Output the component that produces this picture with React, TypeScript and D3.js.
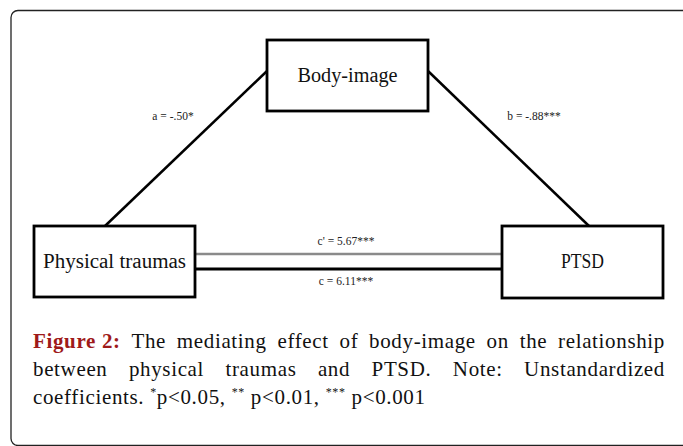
import React, { useRef, useEffect } from "react";
import * as d3 from "d3";

// diagram content
const nodes = ["Body-image", "Physical traumas", "PTSD"];
const pathLabels = ["a = -.50*", "b = -.88***", "c' = 5.67***", "c = 6.11***"];
const captionLead = "Figure 2:";
const captionLines = [
  "The mediating effect of body-image on the relationship",
  "between physical traumas and PTSD. Note: Unstandardized",
];
const captionStart = "coefficients. ";
const captionNotes = [
  { sup: "*", text: "p<0.05, " },
  { sup: "**", text: " p<0.01, " },
  { sup: "***", text: " p<0.001" },
];

const W = 683;
const H = 446;
const serif = "'Liberation Serif', 'Times New Roman', serif";

const App = () => {
  const svgRef = useRef<SVGSVGElement>(null);

  useEffect(() => {
    const svg = d3.select(svgRef.current);
    svg.selectAll("*").remove();

    // layout of boxes (x0, y0, x1, y1)
    const box = {
      [nodes[0]]: [267, 40, 428, 111],
      [nodes[1]]: [34, 226, 195, 297],
      [nodes[2]]: [502, 226, 663, 298],
    } as Record<string, number[]>;
    const textWidth: Record<string, number> = {
      [nodes[0]]: 100,
      [nodes[1]]: 143,
      [nodes[2]]: 43,
    };

    // outer frame
    svg
      .append("rect")
      .attr("x", 11)
      .attr("y", 10.5)
      .attr("width", 680)
      .attr("height", 435)
      .attr("rx", 7)
      .attr("fill", "none")
      .attr("stroke", "#222")
      .attr("stroke-width", 1.3);

    const line = d3.line();
    const g = svg.append("g");

    // a and b paths
    g.append("path")
      .attr("d", line([[105, 226], [267, 71]]))
      .attr("stroke", "#000")
      .attr("stroke-width", 2.5)
      .attr("fill", "none");
    g.append("path")
      .attr("d", line([[428, 71], [589, 226]]))
      .attr("stroke", "#000")
      .attr("stroke-width", 2.5)
      .attr("fill", "none");
    // c' (grey) and c (black)
    g.append("path")
      .attr("d", line([[195, 254], [502, 254]]))
      .attr("stroke", "#8a8a8a")
      .attr("stroke-width", 2.5)
      .attr("fill", "none");
    g.append("path")
      .attr("d", line([[195, 269], [502, 269]]))
      .attr("stroke", "#000")
      .attr("stroke-width", 2.8)
      .attr("fill", "none");

    // boxes
    nodes.forEach((n) => {
      const [x0, y0, x1, y1] = box[n];
      g.append("rect")
        .attr("x", x0)
        .attr("y", y0)
        .attr("width", x1 - x0)
        .attr("height", y1 - y0)
        .attr("fill", "#fff")
        .attr("stroke", "#000")
        .attr("stroke-width", 2.8);
      g.append("text")
        .attr("x", (x0 + x1) / 2)
        .attr("y", (y0 + y1) / 2 + 6)
        .attr("text-anchor", "middle")
        .attr("font-family", serif)
        .attr("font-size", 20)
        .attr("fill", "#111")
        .attr("textLength", textWidth[n])
        .attr("lengthAdjust", "spacingAndGlyphs")
        .text(n);
    });

    // path labels
    const labelPos = [
      [173, 120],
      [534, 120],
      [346, 245],
      [346, 285],
    ];
    pathLabels.forEach((t, i) => {
      g.append("text")
        .attr("x", labelPos[i][0])
        .attr("y", labelPos[i][1])
        .attr("text-anchor", "middle")
        .attr("font-family", serif)
        .attr("font-size", 11.5)
        .attr("fill", "#222")
        .text(t);
    });

    // caption, justified lines
    const left = 33;
    const right = 665;
    const fs = 21;
    const cap = svg
      .append("g")
      .attr("font-family", serif)
      .attr("font-size", fs)
      .attr("letter-spacing", 0.65)
      .attr("fill", "#111");

    const justify = (words: { t: string; bold?: boolean }[], y: number) => {
      const els = words.map((w) =>
        cap
          .append("text")
          .attr("y", y)
          .attr("font-weight", w.bold ? "bold" : "normal")
          .attr("fill", w.bold ? "#9e1a1a" : "#111")
          .text(w.t)
      );
      const widths = els.map((e) => (e.node() as SVGTextElement).getComputedTextLength());
      const total = d3.sum(widths);
      const gap = (right - left - total) / (words.length - 1);
      let x = left;
      els.forEach((e, i) => {
        e.attr("x", x);
        x += widths[i] + gap;
      });
    };

    justify(
      [{ t: captionLead, bold: true }, ...captionLines[0].split(" ").map((t) => ({ t }))],
      348
    );
    justify(captionLines[1].split(" ").map((t) => ({ t })), 376);

    const last = cap.append("text").attr("x", left).attr("y", 404).attr("xml:space", "preserve");
    last.append("tspan").text(captionStart);
    captionNotes.forEach((n) => {
      last
        .append("tspan")
        .attr("font-size", 12)
        .attr("dy", -8)
        .text(n.sup);
      last.append("tspan").attr("dy", 8).text(n.text);
    });
  }, []);

  return (
    <svg
      ref={svgRef}
      width={W}
      height={H}
      style={{ position: "absolute", left: 0, top: 0, background: "#fff" }}
    ></svg>
  );
};

export default App;
